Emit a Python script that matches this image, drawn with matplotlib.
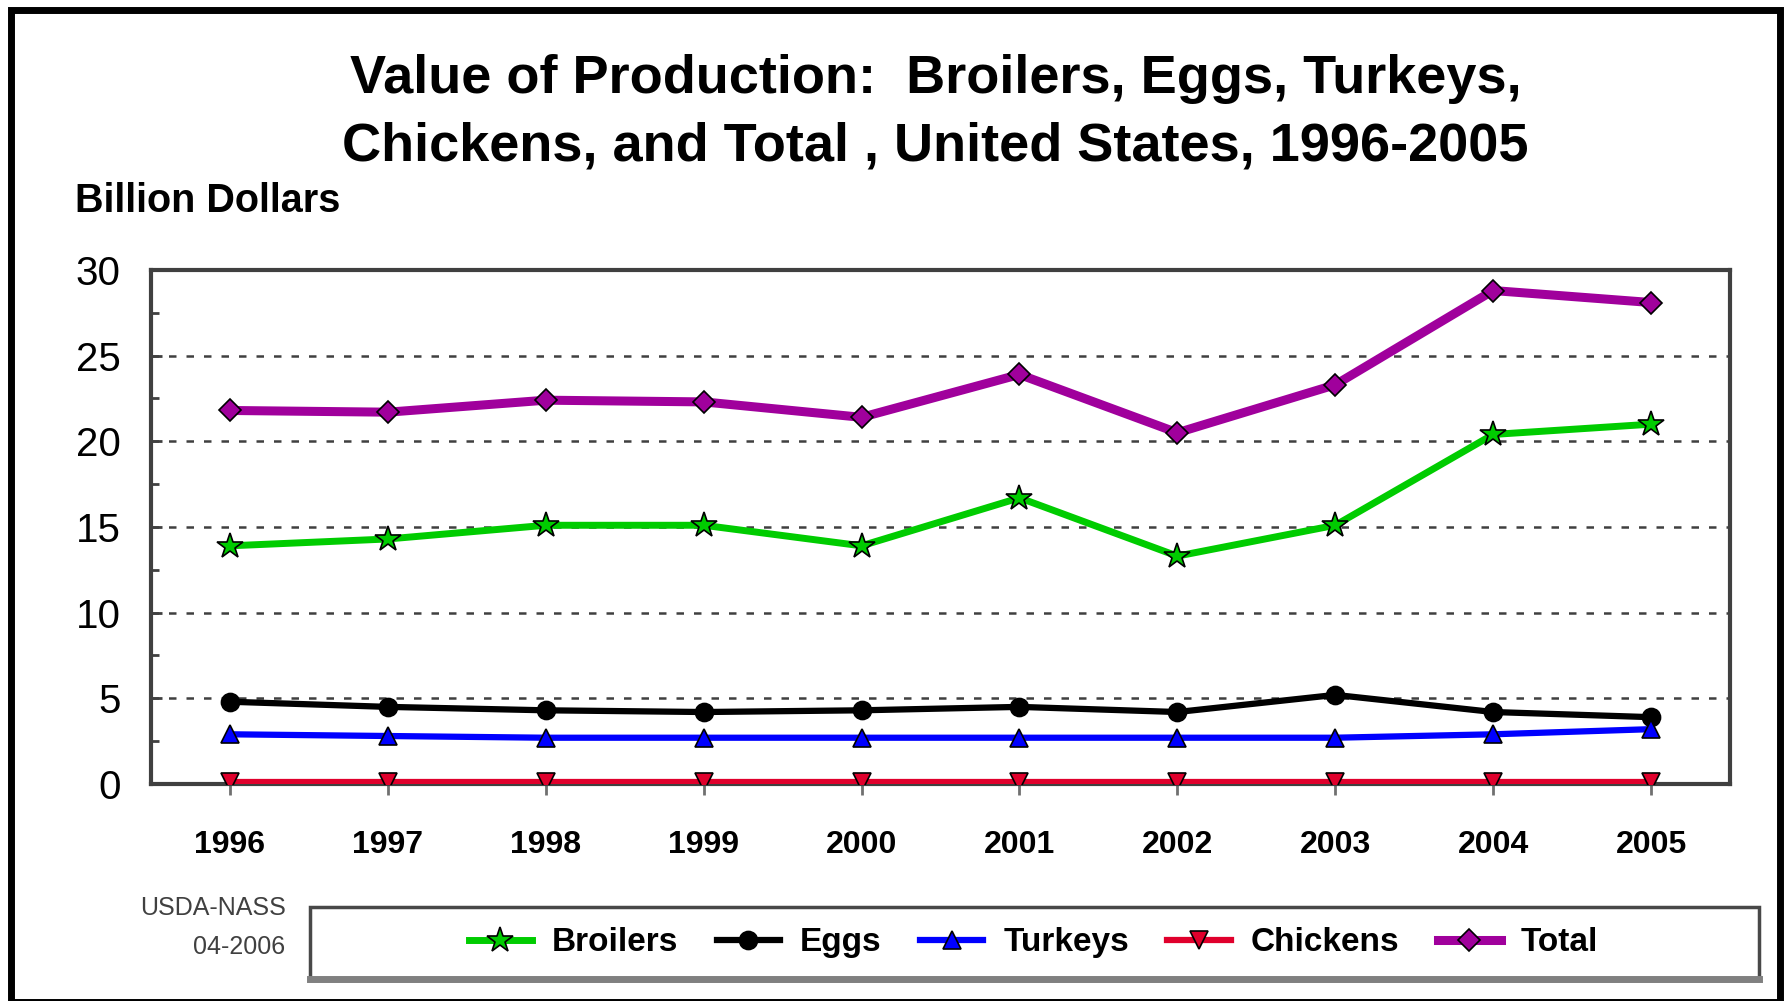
import numpy as np
import matplotlib.pyplot as plt
from matplotlib.patches import Rectangle
from matplotlib.lines import Line2D
from matplotlib.ticker import MultipleLocator

years = [1996, 1997, 1998, 1999, 2000, 2001, 2002, 2003, 2004, 2005]
broilers = [13.9, 14.3, 15.1, 15.1, 13.9, 16.7, 13.3, 15.1, 20.4, 21.0]
eggs = [4.8, 4.5, 4.3, 4.2, 4.3, 4.5, 4.2, 5.2, 4.2, 3.9]
turkeys = [2.9, 2.8, 2.7, 2.7, 2.7, 2.7, 2.7, 2.7, 2.9, 3.2]
chickens = [0.1, 0.1, 0.1, 0.1, 0.1, 0.1, 0.1, 0.1, 0.1, 0.1]
total = [21.8, 21.7, 22.4, 22.3, 21.4, 23.9, 20.5, 23.3, 28.8, 28.1]

plt.rcParams['font.family'] = ['Liberation Sans', 'DejaVu Sans']

fig = plt.figure(figsize=(17.85, 10.01), dpi=100)
ax = fig.add_axes([0.0846, 0.2168, 0.8846, 0.5135])

# name, values, colour, marker, marker size, line width
series = [
    ("Broilers", broilers, "#00cc00", "*", 19, 5),
    ("Eggs", eggs, "black", "o", 13, 4.5),
    ("Turkeys", turkeys, "#0000ff", "^", 13, 4.5),
    ("Chickens", chickens, "#e0002c", "v", 13, 4.5),
    ("Total", total, "#a0009c", "D", 11, 6.5),
]
for name, vals, col, mk, ms, lw in series:
    ax.plot(years, vals, color=col, lw=lw, marker=mk, markersize=ms,
            markerfacecolor=col, markeredgecolor="black", markeredgewidth=1.2,
            label=name, zorder=3)

ax.set_xlim(1995.5, 2005.5)
ax.set_ylim(0, 30)
ax.set_xticks(years)
ax.yaxis.set_major_locator(MultipleLocator(5))
ax.yaxis.set_minor_locator(MultipleLocator(2.5))
ax.grid(axis="y", color="#404040", linestyle=(0, (3, 4)), lw=1.8)
for s in ax.spines.values():
    s.set_color("#404040")
    s.set_linewidth(3)
ax.tick_params(axis="y", which="major", direction="in", length=8, width=2, color="#404040",
               labelsize=29, pad=22)
ax.tick_params(axis="y", which="minor", direction="in", length=6, width=2, color="#404040")
ax.tick_params(axis="x", direction="inout", length=16, width=2, color="#707070", pad=25)
for lab in ax.get_xticklabels():
    lab.set_fontweight("bold")
    lab.set_fontsize(23)

fig.text(0.524, 0.887, "Value of Production:  Broilers, Eggs, Turkeys,\nChickens, and Total , United States, 1996-2005",
         ha="center", va="center", fontsize=39, fontweight="bold", linespacing=1.45)
fig.text(0.042, 0.799, "Billion Dollars", ha="left", va="center", fontsize=28.5, fontweight="bold")

fig.text(0.16, 0.093, "USDA-NASS", ha="right", va="center", fontsize=18, color="#404040")
fig.text(0.16, 0.054, "04-2006", ha="right", va="center", fontsize=18, color="#404040")

# legend box, with the heavier grey bottom edge
fig.patches.append(Rectangle((0.1737, 0.021), 0.8118, 0.073, transform=fig.transFigure,
                             fill=False, edgecolor="#484848", lw=2.5))
fig.lines.append(Line2D([0.1737, 0.9855], [0.0215, 0.0215], transform=fig.transFigure,
                        color="#808080", lw=5))
leg = fig.legend(loc="center", bbox_to_anchor=(0.579, 0.058), ncol=5, frameon=False,
                 prop={"weight": "bold", "size": 24},
                 handlelength=1.9, columnspacing=1.15, handletextpad=0.6)

# outer frame
fig.patches.append(Rectangle((0.0064, -0.0005), 0.991, 0.991, transform=fig.transFigure,
                             fill=False, edgecolor="black", lw=5))

fig.savefig("out.png", dpi=100)
